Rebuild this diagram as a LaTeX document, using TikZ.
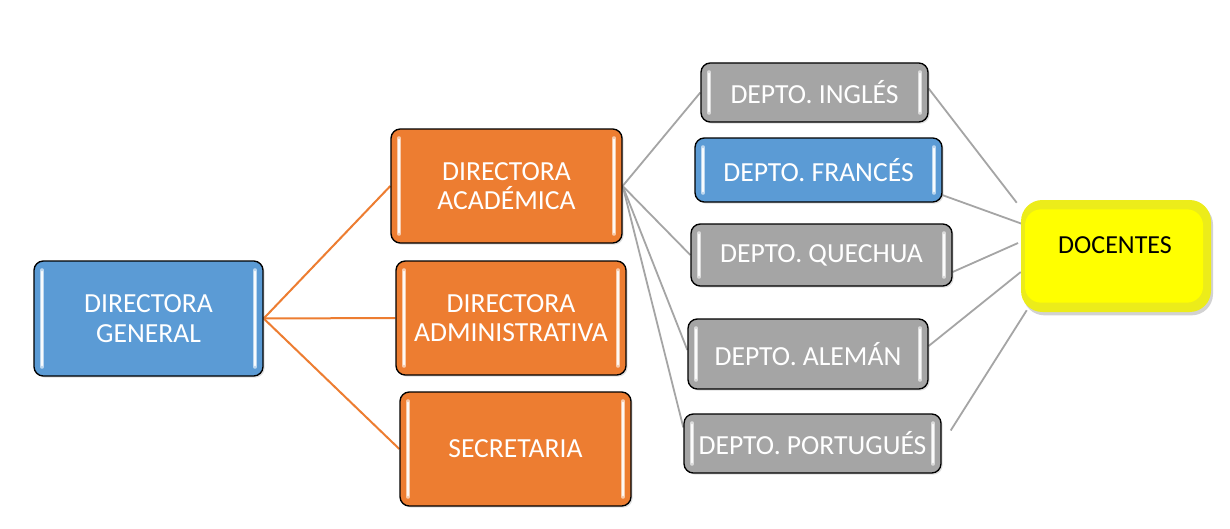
\documentclass[tikz,border=0pt]{standalone}
\usepackage{fontspec}
\setmainfont{Carlito}
\usetikzlibrary{shadows,backgrounds}
\definecolor{cblue}{HTML}{5B9BD5}
\definecolor{corange}{HTML}{ED7D31}
\definecolor{cgray}{HTML}{A5A5A5}
\definecolor{cyellow}{HTML}{FFFF00}
\definecolor{cyellowd}{HTML}{ECEC1A}
\definecolor{cline}{HTML}{A5A5A5}
\tikzset{
  box/.style={rounded corners=7pt, draw=black, line width=1pt, text=white, align=center,
    font=\fontsize{20.7}{22}\selectfont, inner sep=0pt,
    drop shadow={shadow xshift=1.2pt, shadow yshift=-1.2pt, opacity=0.25},
    path picture={
      \draw[white, opacity=0.6, line width=3.2pt, line cap=round]
        ([xshift=6pt,yshift=-7pt]path picture bounding box.north west) --
        ([xshift=6pt,yshift=7pt]path picture bounding box.south west);
      \draw[white, opacity=0.6, line width=3.2pt, line cap=round]
        ([xshift=-6pt,yshift=-7pt]path picture bounding box.north east) --
        ([xshift=-6pt,yshift=7pt]path picture bounding box.south east);
      \draw[white, opacity=0.9, line width=1.4pt, line cap=round]
        ([xshift=6pt,yshift=-8pt]path picture bounding box.north west) --
        ([xshift=6pt,yshift=8pt]path picture bounding box.south west);
      \draw[white, opacity=0.9, line width=1.4pt, line cap=round]
        ([xshift=-6pt,yshift=-8pt]path picture bounding box.north east) --
        ([xshift=-6pt,yshift=8pt]path picture bounding box.south east);
    }},
  bluebox/.style={box, fill=cblue},
  orangebox/.style={box, fill=corange},
  graybox/.style={box, fill=cgray},
  docbox/.style={rounded corners=16pt, fill=cyellowd, inner sep=0pt,
    drop shadow={shadow xshift=1.5pt, shadow yshift=-2.5pt, opacity=0.35},
    path picture={
      \fill[cyellow, rounded corners=12pt]
        ([xshift=3pt,yshift=-7pt]path picture bounding box.north west) rectangle
        ([xshift=-6pt,yshift=7pt]path picture bounding box.south east);
    }},
  doctext/.style={text=black, font=\fontsize{19.5}{22}\selectfont, inner sep=0pt},
  oline/.style={draw=corange, line width=1.5pt},
  gline/.style={draw=cline, line width=1.35pt},
}
\begin{document}
\begin{tikzpicture}[x=0.75pt,y=-0.75pt]
\useasboundingbox (0,0) rectangle (1230,528);
\node[bluebox, minimum width=171.75pt, minimum height=86.25pt] (dg) at (148.5,318.5) {DIRECTORA\\GENERAL};
\node[orangebox, minimum width=173.25pt, minimum height=85.5pt] (da) at (506.5,186) {DIRECTORA\\ACADÉMICA};
\node[orangebox, minimum width=172.5pt, minimum height=85.5pt] (dad) at (511,318) {DIRECTORA\\ADMINISTRATIVA};
\node[orangebox, minimum width=173.25pt, minimum height=85.5pt] (sec) at (515.5,449) {SECRETARIA};
\node[graybox, minimum width=170.25pt, minimum height=44.25pt] (ing) at (814.5,92.5) {DEPTO. INGLÉS};
\node[bluebox, minimum width=185.25pt, minimum height=48pt] (fra) at (818.5,170) {DEPTO. FRANCÉS};
\node[graybox, minimum width=195.75pt, minimum height=46.5pt] (que) at (821.5,255) {DEPTO. QUECHUA};
\node[graybox, minimum width=180pt, minimum height=52.5pt] (ale) at (808,354) {DEPTO. ALEMÁN};
\node[graybox, minimum width=192.75pt, minimum height=44.25pt] (por) at (812.5,443.5) {DEPTO. PORTUGUÉS};
\node[docbox, minimum width=142.5pt, minimum height=84pt] (doc) at (1116,256) {};
\node[doctext] (doct) at (1115,245) {DOCENTES};
\coordinate (porout) at ([xshift=6.75pt,yshift=9.75pt]por.east);
\begin{scope}[on background layer]
  \fill[white] (0,0) rectangle (1230,528);
  \draw[oline] (dg.east) -- (da.west);
  \draw[oline] (dg.east) -- (dad.west);
  \draw[oline] (dg.east) -- (sec.west);
  \draw[gline] (da.east) -- (ing.west);
  \draw[gline] (da.east) -- (que.west);
  \draw[gline] (da.east) -- ([yshift=3pt]ale.west);
  \draw[gline] (da.east) -- ([yshift=12pt]por.west);
  \draw[gline] ([yshift=3pt]ing.east) -- ([xshift=-3pt,yshift=-2.25pt]doc.north west);
  \draw[gline] ([xshift=-5.25pt,yshift=7.5pt]fra.south east) -- ([xshift=7.5pt,yshift=21.75pt]doc.west);
  \draw[gline] ([yshift=-12.75pt]que.east) -- ([xshift=-2pt,yshift=9.75pt]doc.west);
  \draw[gline] ([yshift=6pt]ale.east) -- ([yshift=-12pt]doc.west);
  \draw[gline] (porout) -- ([xshift=4.5pt,yshift=1.5pt]doc.south west);
\end{scope}
\end{tikzpicture}
\end{document}
